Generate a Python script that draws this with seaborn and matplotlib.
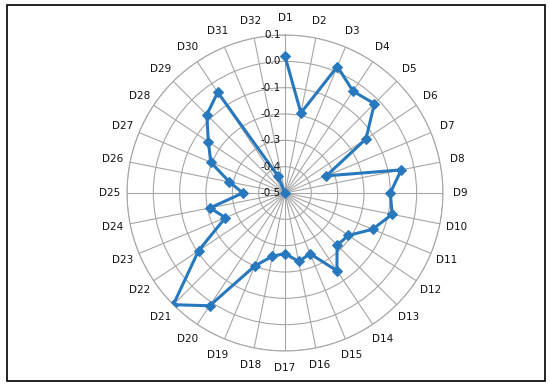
import numpy as np
import pandas as pd
import seaborn as sns
import matplotlib
matplotlib.use("Agg")
import matplotlib.pyplot as plt
from matplotlib.patches import Rectangle
import matplotlib.transforms as mtransforms

categories = ["D%d" % i for i in range(1, 33)]
values = [0.02, -0.19, 0.02, -0.035, -0.02, -0.13, -0.33, -0.05,
          -0.10, -0.085, -0.14, -0.21, -0.22, -0.145, -0.25, -0.235,
          -0.27, -0.255, -0.20, 0.015, 0.10, -0.105, -0.255, -0.21,
          -0.34, -0.285, -0.195, -0.15, -0.08, -0.04, -0.43, -0.50]
r_ticks = [-0.5, -0.4, -0.3, -0.2, -0.1, 0.0, 0.1]
r_labels = ["-0.5", "-0.4", "-0.3", "-0.2", "-0.1", "0.0", "0.1"]

sns.set_style("white")
plt.rcParams["font.family"] = ["DejaVu Sans"]

angles = np.linspace(0, 2 * np.pi, len(categories), endpoint=False)
df = pd.DataFrame({"angle": list(angles) + [angles[0]],
                   "value": values + [values[0]]})

fig = plt.figure(figsize=(5.5, 3.85), dpi=100)
ax = fig.add_axes([0.2309, 0.0883, 0.5745, 0.8208], projection="polar")
ax.set_theta_zero_location("N")
ax.set_theta_direction(-1)

sns.lineplot(data=df, x="angle", y="value", ax=ax, sort=False,
             color="#2878bd", linewidth=2.2, marker="D", markersize=5,
             markeredgecolor="#2878bd", zorder=3)

ax.set_ylim(-0.5, 0.1)
ax.set_xticks(angles)
ax.set_xticklabels(categories, fontsize=7.5, color="#111111")
ax.tick_params(axis="x", pad=2)
ax.set_yticks(r_ticks)
ax.set_yticklabels([])
ax.grid(True, color="#a6a6a6", linewidth=0.8)
ax.spines["polar"].set_color("#a6a6a6")
ax.spines["polar"].set_linewidth(0.8)
ax.set_xlabel("")
ax.set_ylabel("")

offset = mtransforms.offset_copy(ax.transData, fig=fig, x=-3, y=0, units="points")
for r, lab in zip(r_ticks, r_labels):
    ax.text(0, r, lab, transform=offset, ha="right", va="center",
            fontsize=7.5, color="#111111", zorder=4)

fig.patches.append(Rectangle((7 / 550, 4 / 385), 538 / 550, 376 / 385,
                             transform=fig.transFigure, fill=False,
                             edgecolor="black", linewidth=1.2))

plt.savefig("out.png", dpi=100)
plt.close()
